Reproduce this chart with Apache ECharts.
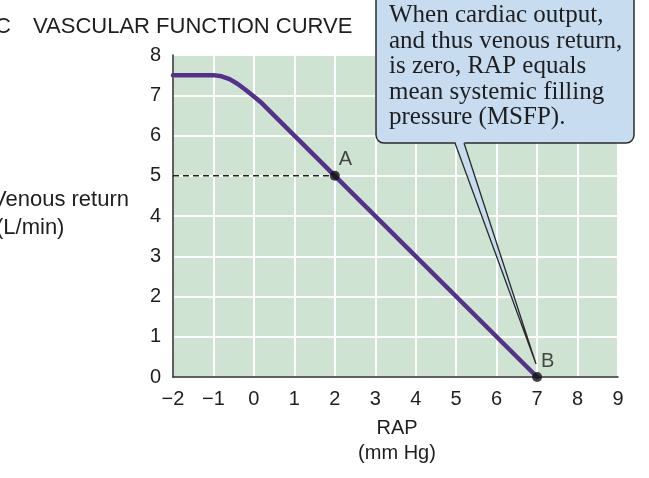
<!DOCTYPE html>
<html>
<head>
<meta charset="utf-8">
<script src="https://cdn.jsdelivr.net/npm/echarts@6/dist/echarts.min.js"></script>
<style>
html,body{margin:0;padding:0;background:#fff;}
#chart{width:649px;height:478px;}
</style>
</head>
<body>
<div id="chart"></div>
<script>
// Data
var rapValues     = [-2, -1, -0.8, -0.6, -0.4, -0.2, 0, 0.2, 7];
var venousValues  = [7.5, 7.5, 7.47, 7.4, 7.28, 7.13, 6.97, 6.8, 0];
var dashedX = [-2, 2];
var dashedY = [5, 5];
var pointLabels = ['A', 'B'];
var pointX = [2, 7];
var pointY = [5, 0];
var xTicks = [-2, -1, 0, 1, 2, 3, 4, 5, 6, 7, 8, 9];
var yTicks = [0, 1, 2, 3, 4, 5, 6, 7, 8];
var titleLetter = 'C';
var titleText = 'VASCULAR FUNCTION CURVE';
var yAxisName = ['Venous return', '(L/min)'];
var xAxisName = ['RAP', '(mm Hg)'];
var calloutLines = ['When cardiac output,', 'and thus venous return,', 'is zero, RAP equals', 'mean systemic filling', 'pressure (MSFP).'];

var chart = echarts.init(document.getElementById('chart'), null, {renderer: 'canvas'});
var SANS = '"Liberation Sans", Arial, sans-serif';
var SERIF = '"Liberation Serif", "Times New Roman", serif';

var curve = rapValues.map(function (x, i) { return [x, venousValues[i]]; });
var dashed = dashedX.map(function (x, i) { return [x, dashedY[i]]; });
var pts = pointX.map(function (x, i) { return {value: [x, pointY[i]], name: pointLabels[i]}; });

var option = {
  animation: false,
  backgroundColor: '#ffffff',
  grid: {
    left: 173, right: 31, top: 55, bottom: 101,
    show: true, backgroundColor: '#cfe3d3', borderWidth: 0,
    containLabel: false, outerBoundsMode: 'none'
  },
  xAxis: {
    type: 'value', min: xTicks[0], max: xTicks[xTicks.length - 1], interval: 1,
    axisLine: {show: true, onZero: false, lineStyle: {color: '#2b2b2b', width: 1.5}},
    axisTick: {show: false},
    splitLine: {show: true, lineStyle: {color: '#ffffff', width: 2}},
    axisLabel: {
      color: '#1e1e1e', fontFamily: SANS, fontSize: 20, margin: 12,
      formatter: function (v) { return String(v).replace('-', '\u2212'); }
    }
  },
  yAxis: {
    type: 'value', min: yTicks[0], max: yTicks[yTicks.length - 1], interval: 1,
    axisLine: {show: true, onZero: false, lineStyle: {color: '#2b2b2b', width: 1.5}},
    axisTick: {show: false},
    splitLine: {show: true, lineStyle: {color: '#ffffff', width: 2}},
    axisLabel: {color: '#1e1e1e', fontFamily: SANS, fontSize: 20, margin: 12}
  },
  series: [
    {
      type: 'line', data: dashed, symbol: 'none', z: 3,
      lineStyle: {color: '#222', width: 1.3, type: [6, 4]}
    },
    {
      type: 'line', data: curve, symbol: 'none', z: 4,
      lineStyle: {color: '#56318c', width: 4.5, cap: 'round', join: 'round'}
    },
    {
      type: 'scatter', data: pts, symbol: 'circle', symbolSize: 10, z: 5,
      itemStyle: {color: '#111'},
      label: {
        show: true, formatter: '{b}', position: [9, -21],
        color: '#1e1e1e', fontFamily: SANS, fontSize: 20
      }
    }
  ],
  graphic: [
    {type: 'text', left: -5, top: 16, z: 50, style: {text: titleLetter, font: '22px ' + SANS, fill: '#1e1e1e'}},
    {type: 'text', left: 33, top: 16, z: 50, style: {text: titleText, font: '22px ' + SANS, fill: '#1e1e1e'}},
    {type: 'text', left: -8, top: 189, z: 50, style: {text: yAxisName[0], font: '22px ' + SANS, fill: '#1e1e1e'}},
    {type: 'text', left: -4, top: 217, z: 50, style: {text: yAxisName[1], font: '22px ' + SANS, fill: '#1e1e1e'}},
    {type: 'text', x: 397, y: 418, z: 50, style: {text: xAxisName[0], font: '20px ' + SANS, fill: '#1e1e1e', align: 'center'}},
    {type: 'text', x: 397, y: 443, z: 50, style: {text: xAxisName[1], font: '20px ' + SANS, fill: '#1e1e1e', align: 'center'}},
    // callout box
    {type: 'rect', z: 60, shape: {x: 376, y: -8, width: 258, height: 151, r: 8},
      style: {fill: '#c7dcef', stroke: '#2a2a2a', lineWidth: 1.5}},
    {type: 'polygon', z: 61, shape: {points: [[455, 141], [464, 141], [536, 364]]},
      style: {fill: '#c7dcef', stroke: null}},
    {type: 'polyline', z: 62, shape: {points: [[455, 143], [536, 364], [464, 143]]},
      style: {fill: null, stroke: '#2a2a2a', lineWidth: 1.3}},
    {type: 'text', x: 389, y: 3, z: 63, style: {
      text: calloutLines.join('\n'), font: '25px ' + SERIF, fill: '#1e1e1e', lineHeight: 25.5
    }}
  ]
};
chart.setOption(option);
</script>
</body>
</html>
